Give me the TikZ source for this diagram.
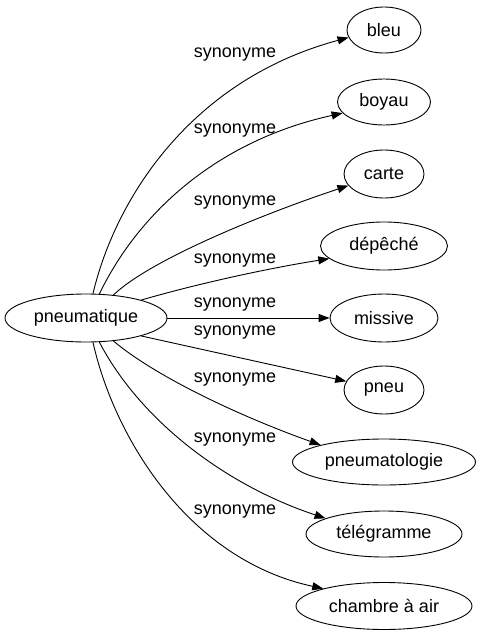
\documentclass[tikz,border=0pt]{standalone}
\usepackage{fontspec}
\setmainfont{Liberation Sans}
\usetikzlibrary{arrows.meta,shapes.geometric}
\begin{document}
\begin{tikzpicture}[x=1pt,y=-1pt,
  word/.style={ellipse,draw,line width=0.9pt,inner sep=0pt,font=\fontsize{18}{20}\selectfont},
  lbl/.style={inner sep=0pt,font=\fontsize{18}{20}\selectfont},
  syn/.style={line width=0.9pt,-{Triangle[length=11pt,width=8pt]}}]
\useasboundingbox (0,0) rectangle (480,635);
\node[word,minimum width=162pt,minimum height=48pt] (pn) at (86,318) {pneumatique};
\node[word,minimum width=74pt,minimum height=46pt] (bleu) at (384,30) {bleu};
\node[word,minimum width=93pt,minimum height=46pt] (boyau) at (384,102) {boyau};
\node[word,minimum width=80pt,minimum height=48pt] (carte) at (384,174) {carte};
\node[word,minimum width=127pt,minimum height=48pt] (depeche) at (384,246) {dépêché};
\node[word,minimum width=108pt,minimum height=48pt] (missive) at (384,318) {missive};
\node[word,minimum width=80pt,minimum height=48pt] (pneu) at (384,390) {pneu};
\node[word,minimum width=183pt,minimum height=46pt] (pneumato) at (384,462) {pneumatologie};
\node[word,minimum width=156pt,minimum height=46pt] (tele) at (384,534) {télégramme};
\node[word,minimum width=176pt,minimum height=47pt] (chambre) at (384,606) {chambre à air};

\node[lbl] (l1) at (235,55) {synonyme};
\node[lbl] (l2) at (235,131) {synonyme};
\node[lbl] (l3) at (235,203) {synonyme};
\node[lbl] (l4) at (235,261) {synonyme};
\node[lbl] (l5) at (235,305) {synonyme};
\node[lbl] (l6) at (235,333) {synonyme};
\node[lbl] (l7) at (235,380) {synonyme};
\node[lbl] (l8) at (235,440) {synonyme};
\node[lbl] (l9) at (235,512) {synonyme};

\draw[syn] (pn.74) .. controls (115,200) and (190,80) .. (bleu.192);
\draw[syn] (pn.61) .. controls (140,210) and (220,140) .. (boyau.195);
\draw[syn] (pn.40) .. controls (150,260) and (260,215) .. (carte.198);
\draw[syn] (pn.18) .. controls (200,283) and (270,268) .. (depeche.193);
\draw[syn] (pn.east) -- (missive.west);
\draw[syn] (pn.-18) -- (pneu.167);
\draw[syn] (pn.-40) .. controls (160,380) and (250,420) .. (pneumato.165);
\draw[syn] (pn.-61) .. controls (140,420) and (225,485) .. (tele.165);
\draw[syn] (pn.-74) .. controls (115,440) and (190,560) .. (chambre.164);
\end{tikzpicture}
\end{document}
